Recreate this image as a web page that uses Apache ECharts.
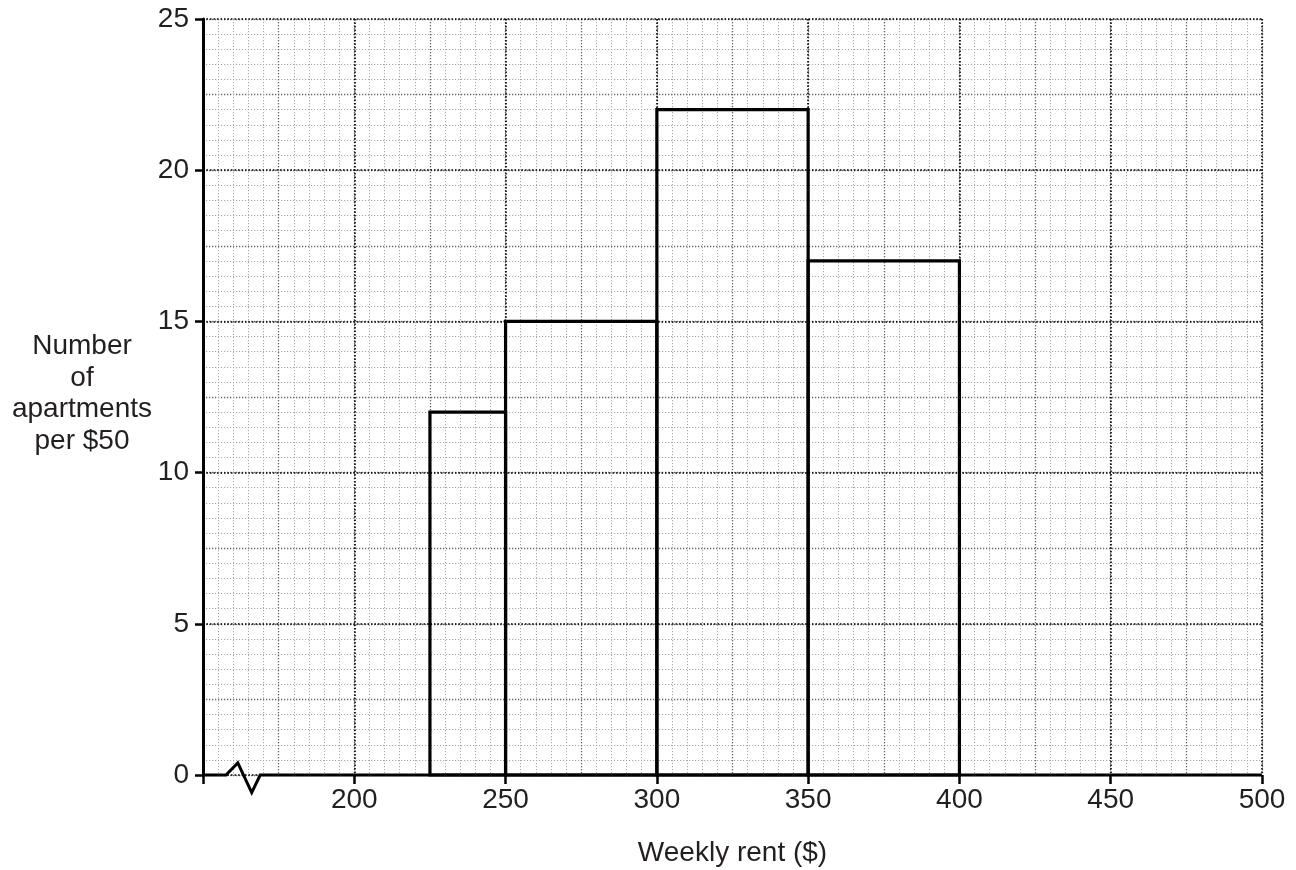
<!DOCTYPE html>
<html><head><meta charset="utf-8">
<script src="https://cdn.jsdelivr.net/npm/echarts@6/dist/echarts.min.js"></script>
<style>html,body{margin:0;padding:0;background:#fff}#c{width:1296px;height:870px}</style>
</head><body><div id="c"></div>
<script>
// Data
const binStart = [225, 250, 300, 350];
const binEnd   = [250, 300, 350, 400];
const counts   = [12, 15, 22, 17];
const xTicks = [200, 250, 300, 350, 400, 450, 500];
const yTicks = [0, 5, 10, 15, 20, 25];
const xTitle = 'Weekly rent ($)';
const yTitle = 'Number\nof\napartments\nper $50';
// axis break zigzag (x-axis line with break), in data units
const axisBreakX = [150, 157.6, 161.5, 166.1, 168.9, 500];
const axisBreakY = [0, 0, 0.40, -0.58, 0, 0];

const FONT = '"Liberation Sans", Arial, sans-serif';
const TXT = '#231f20';
const FS = 28;

const hist = binStart.map((s, i) => [s, binEnd[i], counts[i]]);
const breakLine = axisBreakX.map((x, i) => [x, axisBreakY[i]]);

const chart = echarts.init(document.getElementById('c'), null, {renderer: 'canvas'});

function gridX(interval, color, width) {
  return {
    type: 'value', min: 150, max: 500, interval: interval, gridIndex: 0,
    axisLine: {show: false}, axisTick: {show: false}, axisLabel: {show: false},
    splitLine: {show: true, lineStyle: {color: color, width: width, type: [1.2, 1.8]}}
  };
}
function gridY(interval, color, width) {
  return {
    type: 'value', min: 0, max: 25, interval: interval, gridIndex: 0,
    axisLine: {show: false}, axisTick: {show: false}, axisLabel: {show: false},
    splitLine: {show: true, lineStyle: {color: color, width: width, type: [1.2, 1.8]}}
  };
}

chart.setOption({
  animation: false,
  backgroundColor: '#fff',
  grid: {left: 203, right: 34, top: 19, bottom: 95, containLabel: false, outerBoundsMode: 'none'},
  xAxis: [
    {
      type: 'value', min: 150, max: 500, interval: 50,
      axisLine: {show: false},
      axisTick: {show: true, length: 9, lineStyle: {color: '#000', width: 2.5}},
      axisLabel: {
        margin: 11, fontFamily: FONT, fontSize: FS, color: TXT,
        formatter: v => xTicks.indexOf(v) >= 0 ? String(v) : ''
      },
      splitLine: {show: true, lineStyle: {color: '#000', width: 1.6, type: [1.5, 2]}},
      name: xTitle, nameLocation: 'middle', nameGap: 64,
      nameTextStyle: {fontFamily: FONT, fontSize: FS, color: TXT},
      z: 3
    },
    gridX(5, '#a8a8a8', 1),
    gridX(25, '#666666', 1.3)
  ],
  yAxis: [
    {
      type: 'value', min: 0, max: 25, interval: 5,
      axisLine: {show: true, lineStyle: {color: '#000', width: 3}},
      axisTick: {show: true, length: 8, lineStyle: {color: '#000', width: 2.5}},
      axisLabel: {
        margin: 14, fontFamily: FONT, fontSize: FS, color: TXT,
        formatter: v => yTicks.indexOf(v) >= 0 ? String(v) : ''
      },
      splitLine: {show: true, lineStyle: {color: '#000', width: 1.6, type: [1.5, 2]}},
      z: 3
    },
    gridY(0.5, '#a8a8a8', 1),
    gridY(2.5, '#666666', 1.3)
  ],
  graphic: [{
    type: 'text', x: 82, y: 394,
    style: {
      text: yTitle, font: FS + 'px ' + FONT, fill: TXT,
      align: 'center', verticalAlign: 'middle', lineHeight: 31.5
    }
  }],
  series: [
    {
      type: 'custom',
      xAxisIndex: 0, yAxisIndex: 0,
      data: hist,
      clip: false,
      z: 5,
      renderItem: function (params, api) {
        const p0 = api.coord([api.value(0), api.value(2)]);
        const p1 = api.coord([api.value(1), 0]);
        return {
          type: 'rect',
          shape: {x: p0[0], y: p0[1], width: p1[0] - p0[0], height: p1[1] - p0[1]},
          style: {fill: 'none', stroke: '#000', lineWidth: 3.2}
        };
      }
    },
    {
      type: 'line',
      xAxisIndex: 0, yAxisIndex: 0,
      data: breakLine,
      clip: false,
      symbol: 'none',
      z: 6,
      lineStyle: {color: '#000', width: 3, join: 'miter'}
    }
  ]
});
</script>
</body></html>
